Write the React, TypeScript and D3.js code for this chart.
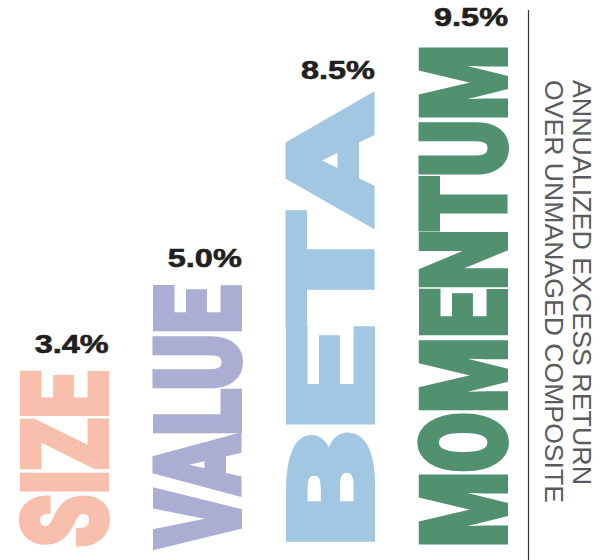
import React from "react";
import * as d3 from "d3";

const categories = ["SIZE", "VALUE", "BETA", "MOMENTUM"];
const values = [3.4, 5.0, 8.5, 9.5];
const valueLabels = ["3.4%", "5.0%", "8.5%", "9.5%"];
const barColors = ["#F8BFAD", "#ABADD3", "#A1C7E3", "#519170"];
const axisTitleLines = ["ANNUALIZED EXCESS RETURN", "OVER UNMANAGED COMPOSITE"];

const W = 610;
const H = 560;
const BASE = 551;
const SW = 6;

export default function App() {
  const x = d3.scaleBand<string>().domain(categories).range([19.5, 508]).paddingInner(0.33).paddingOuter(0);
  const y = d3.scaleLinear().domain([0, 10]).range([BASE, BASE - 536]);
  const bw = x.bandwidth();
  const fs = (bw - SW) / 0.715;

  return (
    <svg width={W} height={H} style={{ position: "absolute", left: 0, top: 0, background: "#fff" }}>
      {categories.map((c, i) => {
        const x0 = x(c)!;
        const top = y(values[i]);
        const h = BASE - top;
        return (
          <g key={c}>
            <text
              transform={`translate(${x0 + bw - SW / 2},${BASE - SW / 2 - 1}) rotate(-90)`}
              textLength={h - SW - 1}
              lengthAdjust="spacingAndGlyphs"
              fontSize={fs}
              fontFamily="Roboto, 'DejaVu Sans', sans-serif"
              fontWeight={900}
              fill={barColors[i]}
              stroke={barColors[i]}
              strokeWidth={SW}
              strokeLinejoin="miter"
            >
              {c}
            </text>
            <text
              x={x0 + bw}
              y={top - 16}
              textAnchor="end"
              textLength={74}
              lengthAdjust="spacingAndGlyphs"
              fontSize={25}
              fontFamily="'Liberation Sans', Arial, sans-serif"
              fontWeight={700}
              fill="#231F20"
              stroke="#231F20"
              strokeWidth={0.6}
            >
              {valueLabels[i]}
            </text>
          </g>
        );
      })}
      <line x1={528.5} x2={528.5} y1={10} y2={H} stroke="#333" strokeWidth={1.2} />
      {axisTitleLines.map((t, i) => (
        <text
          key={t}
          transform={`translate(${573 - i * 28},80) rotate(90)`}
          textLength={i === 0 ? 405 : 423}
          lengthAdjust="spacingAndGlyphs"
          fontSize={25}
          fontFamily="'Liberation Sans', Arial, sans-serif"
          fill="#5a5b5d"
        >
          {t}
        </text>
      ))}
    </svg>
  );
}
